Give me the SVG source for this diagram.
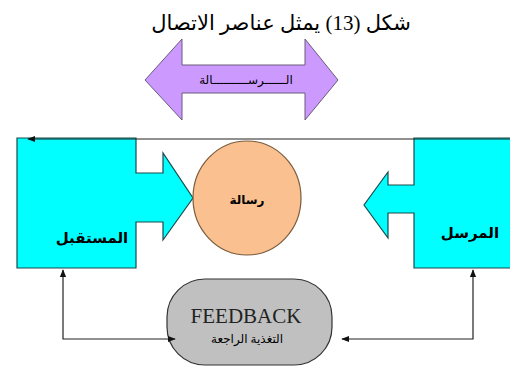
<svg xmlns="http://www.w3.org/2000/svg" width="510" height="374" viewBox="0 0 510 374">
<defs>
<style>
.ar{font-family:"Liberation Serif","DejaVu Sans",serif;fill:#000}
.line{fill:none;stroke:#222;stroke-width:1.2}
.box{fill:#00FFFF;stroke:#1a4a4a;stroke-width:1.2}
</style>
<marker id="ah" viewBox="0 0 10 10" refX="9" refY="5" markerWidth="8" markerHeight="8" orient="auto-start-reverse" markerUnits="userSpaceOnUse">
<path d="M0,1 L10,5 L0,9 z" fill="#111"/>
</marker>
</defs>
<rect width="510" height="374" fill="#fff"/>
<g id="title">
<text class="ar" x="281" y="30" font-size="21" text-anchor="middle">شكل (13) يمثل عناصر الاتصال</text>
</g>
<g id="message-channel">
<polygon points="145,80 182,39 182,65 305,65 305,39 338,80 305,120 305,93 182,93 182,120" fill="#CC99FF" stroke="#6a5a7a" stroke-width="1"/>
<text class="ar" x="246" y="84" font-size="12" text-anchor="middle" fill="#4a3a5a">الــــــرســــــــــالة</text>
</g>
<g id="receiver">
<polygon class="box" points="17,138 136,138 136,173 163,173 163,153 193,198 163,240 163,222 136,222 136,268 17,268"/>
<text class="ar" x="92" y="243" font-size="15" font-weight="bold" text-anchor="middle">المستقبل</text>
</g>
<g id="sender">
<polygon class="box" points="512,138 414,138 414,185 388,185 388,172 364,205 388,238 388,213 414,213 414,268 512,268"/>
<text class="ar" x="470" y="238" font-size="15" font-weight="bold" text-anchor="middle">المرسل</text>
</g>
<g id="message">
<ellipse cx="247" cy="198" rx="54" ry="57" fill="#FAC090" stroke="#7a5a3a" stroke-width="1.2"/>
<text class="ar" x="247" y="204" font-size="12" font-weight="bold" text-anchor="middle">رسالة</text>
</g>
<g id="feedback">
<rect x="167" y="279" width="165" height="86" rx="38" ry="38" fill="#C0C0C0" stroke="#333" stroke-width="1.2"/>
<text x="246" y="323" font-family="Liberation Serif,serif" font-size="21" text-anchor="middle" fill="#222">FEEDBACK</text>
<text class="ar" x="247" y="343" font-size="12" text-anchor="middle" fill="#333">التغذية الراجعة</text>
</g>
<g id="connectors">
<path class="line" d="M510,139 L28,139" marker-end="url(#ah)"/>
<path class="line" d="M63,270 L63,339 L175,339" marker-start="url(#ah)" marker-end="url(#ah)"/>
<path class="line" d="M473,270 L473,339 L342,339" marker-start="url(#ah)" marker-end="url(#ah)"/>
</g>
</svg>
